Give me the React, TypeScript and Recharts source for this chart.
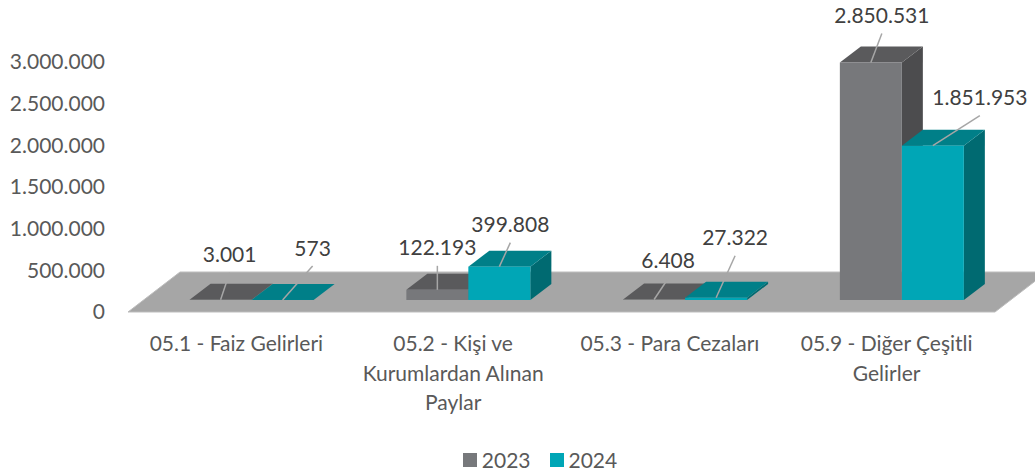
import React from 'react';
import { BarChart, Bar, XAxis, YAxis, Legend, ReferenceArea, LabelList } from 'recharts';

const categories = [
  '05.1 - Faiz Gelirleri',
  '05.2 - Kişi ve Kurumlardan Alınan Paylar',
  '05.3 - Para Cezaları',
  '05.9 - Diğer Çeşitli Gelirler',
];
const values2023 = [3001, 122193, 6408, 2850531];
const values2024 = [573, 399808, 27322, 1851953];
const yTicks = [0, 500000, 1000000, 1500000, 2000000, 2500000, 3000000];
const seriesNames = ['2023', '2024'];

// layout hints: leader-label offsets (px) from each bar's top edge centre
const labelNudge2023 = [[9, -45], [0, -42], [14, -39], [11, -47]];
const labelNudge2024 = [[30, -52], [11, -42], [19, -60], [47, -48]];

const data = categories.map((name, i) => ({ name, v2023: values2023[i], v2024: values2024[i] }));

const FONT = 'Lato, "Open Sans", sans-serif';
const DEPTH_X = 21;
const DEPTH_Y = -16;
const SHIFT_X = 15.6;
const SHIFT_Y = -12;
const FLOOR_DX = 52;

const palette: Record<string, { front: string; top: string; side: string }> = {
  '2023': { front: '#77787b', top: '#5a5a5c', side: '#4c4c4e' },
  '2024': { front: '#00a6b6', top: '#007f88', side: '#006a71' },
};

const fmt = (v: number) => String(Math.round(v)).replace(/\B(?=(\d{3})+(?!\d))/g, '.');

function make3DBar(c: { front: string; top: string; side: string }) {
  return (props: any) => {
    const { x, y, width, height } = props;
    const h = Math.max(height || 0, 0);
    const fx = x + SHIFT_X;
    const fy = y + SHIFT_Y;
    return (
      <g>
        <polygon
          points={`${fx + width},${fy} ${fx + width + DEPTH_X},${fy + DEPTH_Y} ${fx + width + DEPTH_X},${fy + h + DEPTH_Y} ${fx + width},${fy + h}`}
          fill={c.side}
        />
        <polygon
          points={`${fx},${fy} ${fx + width},${fy} ${fx + width + DEPTH_X},${fy + DEPTH_Y} ${fx + DEPTH_X},${fy + DEPTH_Y}`}
          fill={c.top}
        />
        <rect x={fx} y={fy} width={width} height={h} fill={c.front} />
      </g>
    );
  };
}

function makeLabel(nudges: number[][]) {
  return (props: any) => {
    const vb = props.viewBox || props;
    const x = vb.x ?? props.x;
    const y = vb.y ?? props.y;
    const width = vb.width ?? props.width;
    const { value, index } = props;
    const ax = x + SHIFT_X + width / 2;
    const ay = y + SHIFT_Y;
    const [dx, dy] = nudges[index] || [0, -40];
    const tx = ax + dx;
    const ty = ay + dy;
    return (
      <g>
        <line x1={ax} y1={ay} x2={tx} y2={ty + 18} stroke="#a6a6a6" strokeWidth={1.5} />
        <text x={tx} y={ty} dy="0.36em" textAnchor="middle" fill="#404040" fontSize={21} fontFamily={FONT}>
          {fmt(Number(value))}
        </text>
      </g>
    );
  };
}

function wrapLabel(s: string, maxChars = 21): string[] {
  const words = s.split(' ');
  const lines: string[] = [];
  let cur = '';
  for (const w of words) {
    const next = cur ? cur + ' ' + w : w;
    if (next.length > maxChars && cur) {
      lines.push(cur);
      cur = w;
    } else {
      cur = next;
    }
  }
  if (cur) lines.push(cur);
  return lines;
}

const CategoryTick = (props: any) => {
  const { x, y, payload } = props;
  const lines = wrapLabel(String(payload.value));
  return (
    <g>
      {lines.map((l, i) => (
        <text key={i} x={x} y={y + 39 + i * 29.5} textAnchor="middle" fill="#595959" fontSize={21} fontFamily={FONT}>
          {l}
        </text>
      ))}
    </g>
  );
};

const Floor = (props: any) => {
  const { x, y, width, height } = props;
  return (
    <polygon
      points={`${x},${y + height} ${x + width},${y + height} ${x + width + FLOOR_DX},${y} ${x + FLOOR_DX},${y}`}
      fill="#a6a6a6"
      stroke="#bdbdbd"
      strokeWidth={1}
    />
  );
};

const LegendContent = () => (
  <div
    style={{
      display: 'flex',
      justifyContent: 'center',
      alignItems: 'center',
      paddingLeft: 45,
      fontFamily: FONT,
      fontSize: 21,
      color: '#595959',
      lineHeight: '30px',
      height: 30,
    }}
  >
    {seriesNames.map((n, i) => (
      <div key={n} style={{ display: 'flex', alignItems: 'center', marginRight: i === 0 ? 19 : 0 }}>
        <span style={{ display: 'inline-block', width: 14, height: 14, background: palette[n].front, marginRight: 5 }} />
        <span>{n}</span>
      </div>
    ))}
  </div>
);

export default function App() {
  return (
    <div style={{ position: 'absolute', left: 0, top: 0, width: 1035, height: 475, background: '#fff' }}>
      <BarChart
        width={1035}
        height={475}
        data={data}
        barGap={0}
        margin={{ top: 62, right: 40, bottom: 63, left: 0 }}
      >
        <ReferenceArea y1={0} y2={480000} ifOverflow="visible" shape={Floor} />
        <XAxis
          dataKey="name"
          axisLine={false}
          tickLine={false}
          tickSize={0}
          tickMargin={0}
          height={100}
          interval={0}
          tick={(p: any) => <CategoryTick {...p} />}
        />
        <YAxis
          domain={[0, 3000000]}
          ticks={yTicks}
          interval={0}
          tickFormatter={fmt}
          axisLine={false}
          tickLine={false}
          tickSize={0}
          tickMargin={23}
          width={128}
          tick={{ fill: '#595959', fontSize: 21, fontFamily: FONT }}
        />
        <Legend
          layout="horizontal"
          verticalAlign="middle"
          align="center"
          wrapperStyle={{ top: 445, left: 0, width: 1035, height: 30 }}
          content={LegendContent}
        />
        <Bar
          dataKey="v2023"
          name="2023"
          barSize={62}
          fill={palette['2023'].front}
          shape={make3DBar(palette['2023'])}
          isAnimationActive={false}
        >
          <LabelList dataKey="v2023" content={makeLabel(labelNudge2023)} />
        </Bar>
        <Bar
          dataKey="v2024"
          name="2024"
          barSize={62}
          fill={palette['2024'].front}
          shape={make3DBar(palette['2024'])}
          isAnimationActive={false}
        >
          <LabelList dataKey="v2024" content={makeLabel(labelNudge2024)} />
        </Bar>
      </BarChart>
    </div>
  );
}
